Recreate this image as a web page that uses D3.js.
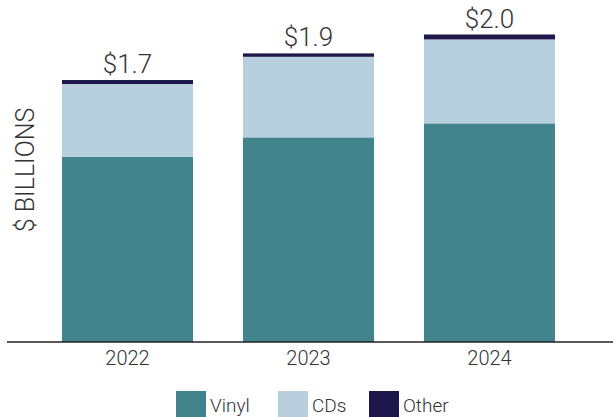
<!DOCTYPE html>
<html>
<head>
<meta charset="utf-8">
<script src="https://cdn.jsdelivr.net/npm/d3@7"></script>
<style>
  body { margin: 0; background: #fff; }
  text { font-family: Roboto, "Noto Sans", sans-serif; fill: #333; }
</style>
</head>
<body>
<div id="chart"></div>
<script>
var years = ["2022", "2023", "2024"];
var vinyl = [1.205, 1.331, 1.422];
var cds = [0.473, 0.524, 0.546];
var other = [0.026, 0.022, 0.032];
var totalLabels = ["$1.7", "$1.9", "$2.0"];
var seriesNames = ["Vinyl", "CDs", "Other"];
var colors = ["#41848b", "#b8d0dd", "#1e174a"];

var width = 613, height = 417, baseline = 342;

var rows = years.map(function(y, i) {
  return { year: y, Vinyl: vinyl[i], CDs: cds[i], Other: other[i], label: totalLabels[i] };
});

var x = d3.scaleBand()
          .domain(years)
          .range([37, 580])
          .paddingInner(0.276)
          .paddingOuter(0.138);

var y = d3.scaleLinear()
          .domain([0, 2])
          .range([baseline, 34.5]);

var color = d3.scaleOrdinal().domain(seriesNames).range(colors);

var stack = d3.stack().keys(seriesNames);
var layers = stack(rows);

var svg = d3.select("#chart").append("svg")
            .attr("width", width)
            .attr("height", height);

svg.append("g").selectAll("g")
   .data(layers)
   .enter().append("g")
     .attr("fill", d => color(d.key))
   .selectAll("rect")
   .data(d => d)
   .enter().append("rect")
     .attr("x", d => x(d.data.year))
     .attr("width", x.bandwidth())
     .attr("y", d => y(d[1]))
     .attr("height", d => y(d[0]) - y(d[1]));

// total labels above the bars
svg.append("g").selectAll("text")
   .data(rows)
   .enter().append("text")
     .attr("x", d => x(d.year) + x.bandwidth() / 2)
     .attr("y", d => y(d.Vinyl + d.CDs + d.Other) - 7)
     .attr("text-anchor", "middle")
     .attr("font-size", 26)
     .attr("font-weight", 300)
     .text(d => d.label);

// baseline
svg.append("line")
   .attr("x1", 7).attr("x2", width)
   .attr("y1", baseline).attr("y2", baseline)
   .attr("stroke", "#222")
   .attr("stroke-width", 1.5);

svg.append("g").selectAll("text")
   .data(years)
   .enter().append("text")
     .attr("x", d => x(d) + x.bandwidth() / 2)
     .attr("y", 365)
     .attr("text-anchor", "middle")
     .attr("font-size", 20)
     .attr("font-weight", 300)
     .text(d => d);

// y title
svg.append("text")
   .attr("transform", "translate(34,170) rotate(-90)")
   .attr("text-anchor", "middle")
   .attr("font-size", 25)
   .attr("font-weight", 300)
   .text("$ BILLIONS");

// legend
var legendX = [176, 278, 369];
var legend = svg.append("g").selectAll("g")
   .data(seriesNames)
   .enter().append("g")
     .attr("transform", (d, i) => "translate(" + legendX[i] + ",391)");

legend.append("rect")
   .attr("width", 30)
   .attr("height", 30)
   .attr("fill", d => color(d));

legend.append("text")
   .attr("x", 34)
   .attr("y", 21)
   .attr("font-size", 19)
   .attr("font-weight", 300)
   .text(d => d);
</script>
</body>
</html>
